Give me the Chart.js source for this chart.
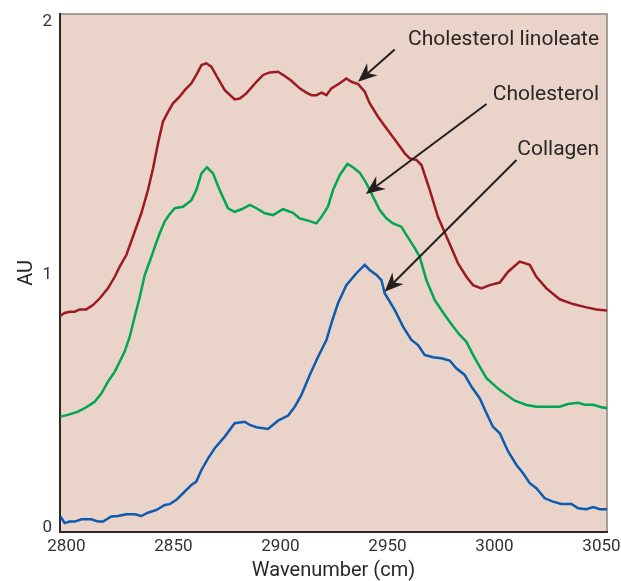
<!DOCTYPE html>
<html>
<head>
<meta charset="utf-8">
<script src="https://cdn.jsdelivr.net/npm/chart.js@4.4.0/dist/chart.umd.min.js"></script>
<style>
  html, body { margin: 0; padding: 0; background: #fff; }
</style>
</head>
<body>
<canvas id="chart" width="621" height="581"></canvas>
<script>
// Spectra: wavenumber (cm) and absorbance (AU)
var linoleateWn = [2797.2, 2799.2, 2801.5, 2803.9, 2806.2, 2809.3, 2812.4, 2815.6, 2819.4, 2822.6, 2824.9, 2828.0, 2831.9, 2835.0, 2838.1, 2840.5, 2842.8, 2845.1, 2847.5, 2849.8, 2852.9, 2855.3, 2858.4, 2860.7, 2863.1, 2865.4, 2867.8, 2870.8, 2874.0, 2878.6, 2881.0, 2884.1, 2888.8, 2891.9, 2895.0, 2898.9, 2902.0, 2905.1, 2909.0, 2912.1, 2914.5, 2916.8, 2919.2, 2921.5, 2923.8, 2927.7, 2930.8, 2933.2, 2936.3, 2939.4, 2941.7, 2945.6, 2949.5, 2954.2, 2958.1, 2960.4, 2963.5, 2965.9, 2969.8, 2973.6, 2978.3, 2983.0, 2986.9, 2990.0, 2993.9, 2997.8, 3002.5, 3006.4, 3011.8, 3016.5, 3019.6, 3024.3, 3030.5, 3036.7, 3043.0, 3047.7, 3053.1];
var linoleateAu = [0.839, 0.850, 0.855, 0.855, 0.864, 0.864, 0.881, 0.908, 0.947, 0.993, 1.033, 1.079, 1.171, 1.244, 1.336, 1.422, 1.521, 1.606, 1.645, 1.679, 1.705, 1.731, 1.758, 1.791, 1.830, 1.837, 1.823, 1.777, 1.731, 1.694, 1.698, 1.718, 1.764, 1.791, 1.801, 1.804, 1.787, 1.768, 1.738, 1.721, 1.711, 1.711, 1.721, 1.711, 1.738, 1.758, 1.777, 1.764, 1.755, 1.725, 1.679, 1.626, 1.580, 1.527, 1.481, 1.461, 1.455, 1.435, 1.336, 1.230, 1.138, 1.046, 0.993, 0.960, 0.947, 0.960, 0.970, 1.013, 1.053, 1.040, 0.993, 0.947, 0.904, 0.885, 0.872, 0.864, 0.859];

var cholesterolWn = [2797.2, 2800.7, 2805.4, 2809.3, 2813.2, 2816.4, 2819.4, 2822.6, 2824.9, 2827.2, 2829.6, 2831.9, 2834.3, 2836.6, 2839.7, 2841.3, 2843.6, 2845.9, 2848.3, 2850.6, 2854.5, 2858.4, 2860.7, 2863.1, 2865.7, 2868.5, 2871.6, 2875.5, 2878.6, 2881.8, 2885.7, 2888.8, 2892.7, 2896.5, 2901.2, 2905.9, 2909.0, 2912.9, 2916.8, 2919.2, 2922.2, 2924.6, 2927.7, 2931.3, 2933.9, 2937.1, 2940.2, 2943.3, 2946.4, 2949.5, 2952.6, 2956.5, 2958.9, 2962.8, 2965.1, 2968.2, 2972.1, 2976.8, 2980.7, 2983.8, 2986.9, 2990.0, 2993.1, 2996.3, 3002.5, 3009.5, 3015.0, 3019.6, 3030.5, 3034.4, 3039.1, 3042.2, 3046.1, 3050.0, 3053.1];
var cholesterolAu = [0.440, 0.447, 0.460, 0.477, 0.499, 0.532, 0.578, 0.618, 0.657, 0.697, 0.756, 0.835, 0.914, 1.000, 1.072, 1.112, 1.165, 1.211, 1.241, 1.264, 1.270, 1.296, 1.336, 1.402, 1.426, 1.402, 1.336, 1.264, 1.250, 1.260, 1.277, 1.264, 1.244, 1.237, 1.260, 1.246, 1.224, 1.215, 1.204, 1.230, 1.270, 1.336, 1.395, 1.439, 1.426, 1.404, 1.362, 1.309, 1.257, 1.224, 1.204, 1.191, 1.158, 1.106, 1.072, 0.980, 0.901, 0.842, 0.796, 0.763, 0.736, 0.684, 0.638, 0.592, 0.545, 0.503, 0.486, 0.479, 0.479, 0.490, 0.495, 0.487, 0.487, 0.477, 0.473];

var collagenWn = [2797.2, 2799.2, 2801.5, 2803.9, 2807.0, 2811.7, 2814.8, 2817.1, 2821.0, 2824.1, 2828.0, 2831.9, 2835.0, 2838.1, 2842.1, 2845.9, 2848.3, 2851.4, 2854.5, 2858.4, 2860.7, 2863.1, 2866.2, 2869.3, 2874.0, 2878.6, 2883.3, 2885.7, 2888.8, 2894.2, 2898.9, 2903.6, 2906.7, 2909.8, 2913.7, 2917.6, 2921.5, 2923.8, 2926.9, 2930.8, 2935.5, 2939.4, 2941.7, 2944.9, 2947.2, 2948.7, 2953.4, 2957.3, 2961.2, 2964.3, 2967.4, 2971.3, 2975.2, 2979.1, 2982.2, 2986.1, 2989.3, 2993.1, 2996.3, 2999.3, 3002.5, 3006.4, 3010.3, 3013.4, 3016.5, 3019.6, 3023.5, 3027.4, 3031.3, 3036.0, 3039.1, 3043.0, 3046.1, 3049.3, 3053.1];
var collagenAu = [0.045, 0.019, 0.025, 0.025, 0.034, 0.034, 0.025, 0.025, 0.045, 0.047, 0.054, 0.054, 0.047, 0.060, 0.071, 0.091, 0.094, 0.111, 0.137, 0.170, 0.183, 0.229, 0.275, 0.315, 0.361, 0.414, 0.420, 0.407, 0.398, 0.391, 0.424, 0.444, 0.479, 0.526, 0.605, 0.677, 0.743, 0.809, 0.888, 0.960, 1.007, 1.040, 1.020, 1.000, 0.980, 0.928, 0.862, 0.796, 0.743, 0.723, 0.684, 0.675, 0.671, 0.662, 0.631, 0.605, 0.558, 0.513, 0.453, 0.400, 0.374, 0.302, 0.249, 0.216, 0.177, 0.157, 0.117, 0.104, 0.095, 0.095, 0.078, 0.074, 0.082, 0.074, 0.074];

var xTicks = [2800, 2850, 2900, 2950, 3000, 3050];
var yTicks = [0, 1, 2];

// Callout labels and their arrows (data coordinates)
var calloutText = ["Cholesterol linoleate", "Cholesterol", "Collagen"];
var calloutAt = [[3048.9, 1.929], [3048.9, 1.711], [3048.9, 1.494]];
var arrowFrom = [[2953.4, 1.892], [2996.3, 1.676], [3010.3, 1.455]];
var arrowTo = [[2936.3, 1.764], [2939.9, 1.320], [2948.7, 0.934]];

var FONT = "Roboto, 'Liberation Sans', sans-serif";

function pairs(xs, ys) {
    return xs.map(function(x, i) { return { x: x, y: ys[i] }; });
}

var plotBackground = {
    id: "plotBackground",
    beforeDraw: function(chart) {
        var a = chart.chartArea, ctx = chart.ctx;
        ctx.save();
        ctx.fillStyle = "#ead3c8";
        ctx.fillRect(a.left, a.top, a.right - a.left, a.bottom - a.top);
        ctx.strokeStyle = "#8a8483";
        ctx.lineWidth = 1.5;
        ctx.beginPath();
        ctx.moveTo(a.left, a.top);
        ctx.lineTo(a.right, a.top);
        ctx.lineTo(a.right, a.bottom);
        ctx.stroke();
        ctx.restore();
    }
};

var callouts = {
    id: "callouts",
    afterDatasetsDraw: function(chart) {
        var ctx = chart.ctx, xs = chart.scales.x, ys = chart.scales.y;
        ctx.save();
        ctx.fillStyle = "#2b2727";
        ctx.font = "21px " + FONT;
        ctx.textAlign = "right";
        ctx.textBaseline = "middle";
        calloutText.forEach(function(t, i) {
            ctx.fillText(t, xs.getPixelForValue(calloutAt[i][0]), ys.getPixelForValue(calloutAt[i][1]));
        });
        ctx.strokeStyle = "#231f20";
        ctx.fillStyle = "#231f20";
        ctx.lineWidth = 2;
        arrowFrom.forEach(function(f, i) {
            var x0 = xs.getPixelForValue(f[0]), y0 = ys.getPixelForValue(f[1]);
            var x1 = xs.getPixelForValue(arrowTo[i][0]), y1 = ys.getPixelForValue(arrowTo[i][1]);
            var ang = Math.atan2(y1 - y0, x1 - x0);
            var len = 19, half = 8, notch = 13;
            var bx = x1 - Math.cos(ang) * notch, by = y1 - Math.sin(ang) * notch;
            ctx.beginPath();
            ctx.moveTo(x0, y0);
            ctx.lineTo(bx, by);
            ctx.stroke();
            var cx = x1 - Math.cos(ang) * len, cy = y1 - Math.sin(ang) * len;
            var px = -Math.sin(ang) * half, py = Math.cos(ang) * half;
            ctx.beginPath();
            ctx.moveTo(x1, y1);
            ctx.lineTo(cx + px, cy + py);
            ctx.lineTo(bx, by);
            ctx.lineTo(cx - px, cy - py);
            ctx.closePath();
            ctx.fill();
        });
        ctx.restore();
    }
};

new Chart(document.getElementById("chart"), {
    type: "line",
    data: {
        datasets: [
            { label: "Cholesterol linoleate", data: pairs(linoleateWn, linoleateAu), borderColor: "#9b1b21" },
            { label: "Cholesterol", data: pairs(cholesterolWn, cholesterolAu), borderColor: "#00a650" },
            { label: "Collagen", data: pairs(collagenWn, collagenAu), borderColor: "#0b5cb0" }
        ]
    },
    options: {
        responsive: false,
        animation: false,
        layout: { padding: { left: 0, right: 14, top: 14, bottom: 0 } },
        elements: {
            point: { radius: 0 },
            line: { borderWidth: 2.5, tension: 0 }
        },
        plugins: {
            legend: { display: false },
            tooltip: { enabled: false }
        },
        scales: {
            x: {
                type: "linear",
                min: 2797,
                max: 3052.6,
                afterBuildTicks: function(s) { s.ticks = xTicks.map(function(v) { return { value: v }; }); },
                afterFit: function(s) { s.height = 49.3; s.paddingLeft = 0; s.paddingRight = 0; },
                grid: { display: false, drawTicks: false, tickLength: 0 },
                border: { display: true, color: "#2b2727", width: 2 },
                ticks: { color: "#333", font: { family: FONT, size: 17 }, padding: 5, maxRotation: 0,
                         callback: function(v) { return String(v); } },
                title: { display: true, text: "Wavenumber (cm)", color: "#2b2727", font: { family: FONT, size: 20, lineHeight: 1.0 }, padding: { top: 0, bottom: 0 } }
            },
            y: {
                min: -0.015,
                max: 2.032,
                afterBuildTicks: function(s) { s.ticks = yTicks.map(function(v) { return { value: v }; }); },
                afterFit: function(s) { s.width = 60; s.paddingTop = 0; s.paddingBottom = 0; },
                grid: { display: false, drawTicks: false, tickLength: 0 },
                border: { display: true, color: "#2b2727", width: 2 },
                ticks: { color: "#333", font: { family: FONT, size: 17 }, padding: 8 },
                title: { display: true, text: "AU", color: "#2b2727", font: { family: FONT, size: 20 }, padding: { top: 15, bottom: 0 } }
            }
        }
    },
    plugins: [plotBackground, callouts]
});
</script>
</body>
</html>
